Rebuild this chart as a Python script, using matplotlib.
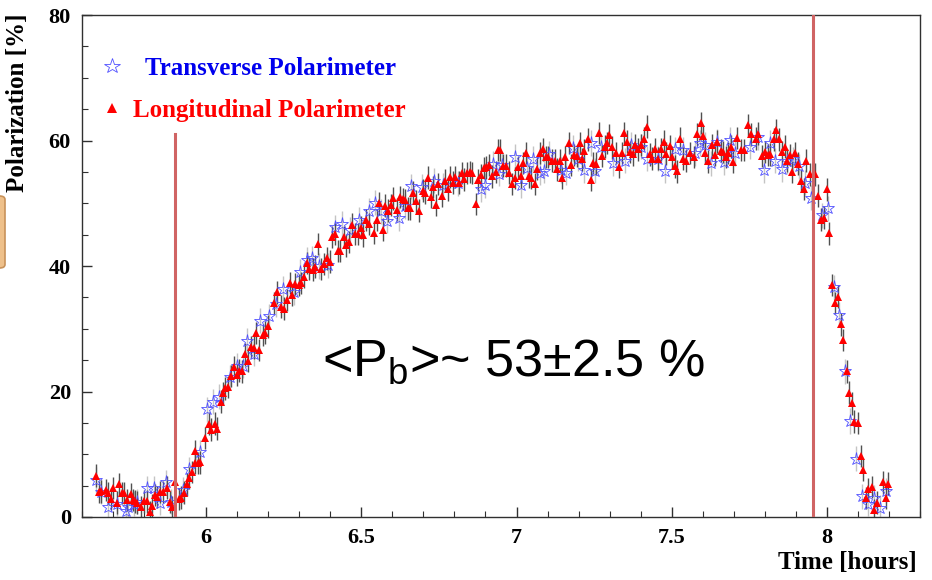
import matplotlib
matplotlib.use("Agg")
import matplotlib.pyplot as plt
from matplotlib.patches import FancyBboxPatch
from matplotlib.ticker import MultipleLocator

# Longitudinal polarimeter (red triangles): time [h], polarization [%]
tri_t = [5.646, 5.655, 5.662, 5.676, 5.684, 5.693, 5.701, 5.712, 5.720, 5.728,
         5.735, 5.744, 5.757, 5.764, 5.771, 5.778, 5.789, 5.800, 5.811, 5.819,
         5.827, 5.835, 5.843, 5.852, 5.862, 5.874, 5.884, 5.891, 5.899, 5.914,
         5.920, 5.928, 5.938, 5.946, 5.953, 5.964, 5.965, 5.973, 5.981, 5.996,
         6.010, 6.017, 6.027, 6.036, 6.047, 6.053, 6.061, 6.070, 6.080, 6.090,
         6.099, 6.106, 6.115, 6.126, 6.135, 6.144, 6.155, 6.160, 6.171, 6.182,
         6.189, 6.198, 6.219, 6.227, 6.241, 6.252, 6.259, 6.271, 6.278, 6.287,
         6.298, 6.306, 6.316, 6.324, 6.332, 6.345, 6.352, 6.360, 6.369, 6.381,
         6.389, 6.399, 6.405, 6.416, 6.424, 6.432, 6.443, 6.451, 6.461, 6.470,
         6.481, 6.488, 6.499, 6.506, 6.515, 6.524, 6.542, 6.551, 6.558, 6.569,
         6.577, 6.585, 6.594, 6.603, 6.615, 6.625, 6.633, 6.640, 6.649, 6.657,
         6.668, 6.676, 6.685, 6.698, 6.706, 6.714, 6.723, 6.732, 6.741, 6.746,
         6.760, 6.768, 6.778, 6.786, 6.795, 6.803, 6.814, 6.823, 6.832, 6.840,
         6.851, 6.857, 6.868, 6.877, 6.886, 6.895, 6.902, 6.911, 6.922, 6.935,
         6.940, 6.948, 6.956, 6.967, 6.975, 6.985, 6.994, 7.004, 7.013, 7.022,
         7.029, 7.039, 7.047, 7.058, 7.067, 7.075, 7.086, 7.096, 7.103, 7.114,
         7.123, 7.131, 7.139, 7.148, 7.155, 7.168, 7.176, 7.185, 7.195, 7.203,
         7.212, 7.219, 7.230, 7.241, 7.247, 7.256, 7.265, 7.274, 7.284, 7.293,
         7.299, 7.307, 7.322, 7.330, 7.339, 7.346, 7.356, 7.365, 7.374, 7.382,
         7.391, 7.400, 7.410, 7.422, 7.429, 7.438, 7.447, 7.456, 7.465, 7.475,
         7.483, 7.494, 7.501, 7.510, 7.518, 7.528, 7.538, 7.546, 7.558, 7.571,
         7.581, 7.593, 7.601, 7.606, 7.617, 7.630, 7.639, 7.646, 7.658, 7.665,
         7.674, 7.682, 7.690, 7.699, 7.710, 7.723, 7.732, 7.746, 7.755, 7.771,
         7.778, 7.791, 7.800, 7.809, 7.817, 7.828, 7.835, 7.845, 7.854, 7.864,
         7.873, 7.881, 7.888, 7.897, 7.907, 7.918, 7.926, 7.934, 7.945, 7.961,
         7.972, 7.981, 7.990, 7.999, 8.006, 8.015, 8.026, 8.035, 8.044, 8.053,
         8.064, 8.072, 8.080, 8.088, 8.099, 8.109, 8.117, 8.126, 8.133, 8.144,
         8.152, 8.160, 8.181, 8.189, 8.198]
tri_p = [6.6, 4.0, 4.1, 4.3, 3.8, 2.9, 4.6, 2.3, 5.2, 3.8,
         3.8, 2.7, 3.6, 2.7, 2.5, 2.3, 1.6, 2.5, 2.5, 0.8,
         1.8, 3.5, 3.2, 4.0, 4.0, 4.7, 2.4, 1.6, 5.5, 2.9,
         3.1, 3.9, 5.2, 6.2, 7.2, 8.6, 10.5, 8.6, 8.7, 12.6,
         14.9, 13.9, 14.9, 14.1, 18.4, 19.7, 20.5, 20.7, 22.5, 23.9,
         22.6, 23.3, 23.2, 25.9, 24.9, 27.1, 27.0, 29.3, 26.6, 29.0,
         29.4, 30.4, 34.1, 35.8, 33.5, 33.2, 34.6, 37.3, 35.4, 37.1,
         37.0, 37.3, 38.3, 40.5, 39.6, 39.4, 39.9, 43.5, 39.5, 40.3,
         41.2, 40.7, 44.6, 45.1, 42.4, 42.4, 44.6, 43.3, 43.8, 46.6,
         45.1, 45.1, 46.1, 44.9, 47.3, 46.7, 45.3, 47.3, 50.0, 45.8,
         49.6, 48.8, 49.7, 50.8, 49.0, 51.0, 50.7, 50.5, 49.2, 49.2,
         51.7, 50.3, 48.8, 52.0, 51.7, 54.1, 51.0, 52.6, 49.7, 53.1,
         51.2, 53.6, 52.2, 54.2, 53.3, 54.2, 53.3, 54.8, 53.8, 54.8,
         55.0, 54.8, 49.9, 53.7, 54.5, 55.6, 55.7, 56.1, 54.3, 55.0,
         58.5, 58.5, 56.0, 56.0, 54.9, 53.1, 54.0, 55.8, 54.3, 56.4,
         58.0, 54.3, 54.0, 53.1, 55.5, 58.0, 58.6, 57.4, 57.4, 56.8,
         56.8, 55.4, 56.8, 54.0, 57.3, 59.6, 56.1, 57.7, 57.5, 59.6,
         57.0, 58.4, 60.2, 53.7, 56.4, 56.3, 61.2, 57.5, 59.0, 59.6,
         60.9, 58.9, 58.0, 55.8, 58.0, 61.2, 59.8, 58.2, 57.8, 59.3,
         58.6, 59.3, 60.3, 62.2, 57.8, 57.1, 58.6, 57.1, 58.6, 59.8,
         57.9, 59.1, 57.3, 55.9, 55.1, 60.3, 57.1, 56.8, 58.0, 57.4,
         61.0, 62.8, 60.7, 58.0, 56.7, 59.3, 57.7, 59.8, 58.4, 58.2,
         57.4, 58.0, 59.0, 56.6, 60.4, 58.5, 58.5, 62.5, 61.0, 60.3,
         61.1, 57.5, 58.2, 57.7, 57.8, 60.2, 61.6, 60.2, 58.2, 59.0,
         56.8, 57.7, 55.0, 58.0, 56.3, 53.6, 52.3, 56.8, 54.6, 54.6,
         51.2, 47.4, 47.7, 52.2, 45.2, 37.0, 34.1, 35.1, 30.7, 28.2,
         23.2, 19.8, 18.1, 15.2, 15.0, 9.7, 7.5, 3.0, 4.4, 4.8,
         1.1, 2.3, 5.5, 3.0, 5.3]

# Transverse polarimeter (blue open stars)
star_t = [5.646, 5.660, 5.684, 5.712, 5.741, 5.749, 5.768, 5.778, 5.811, 5.832,
          5.852, 5.870, 5.888, 5.927, 5.945, 5.981, 6.003, 6.023, 6.040, 6.077,
          6.101, 6.119, 6.133, 6.153, 6.174, 6.203, 6.226, 6.248, 6.284, 6.303,
          6.326, 6.341, 6.362, 6.392, 6.416, 6.438, 6.464, 6.491, 6.526, 6.544,
          6.564, 6.582, 6.620, 6.642, 6.660, 6.696, 6.735, 6.762, 6.811, 6.884,
          6.900, 6.924, 6.942, 6.953, 6.994, 7.015, 7.035, 7.053, 7.077, 7.090,
          7.106, 7.144, 7.160, 7.182, 7.198, 7.217, 7.241, 7.254, 7.273, 7.311,
          7.348, 7.368, 7.402, 7.422, 7.456, 7.477, 7.510, 7.536, 7.574, 7.592,
          7.606, 7.628, 7.647, 7.669, 7.687, 7.705, 7.752, 7.778, 7.798, 7.816,
          7.834, 7.856, 7.873, 7.890, 7.911, 7.929, 7.948, 7.983, 8.003, 8.023,
          8.039, 8.058, 8.074, 8.093, 8.112, 8.131, 8.153, 8.171, 8.189]
star_p = [5.9, 4.0, 1.6, 2.1, 1.0, 1.6, 2.1, 2.4, 4.6, 4.6,
          2.3, 5.5, 2.4, 4.3, 7.6, 10.3, 17.2, 18.4, 19.2, 22.3,
          24.1, 24.1, 28.1, 26.0, 31.3, 32.0, 33.9, 36.4, 35.8, 39.1,
          41.0, 41.2, 40.0, 40.1, 46.2, 46.7, 45.8, 47.4, 48.8, 50.1,
          48.7, 47.2, 47.6, 49.5, 52.7, 52.6, 53.6, 52.9, 53.2, 52.2,
          52.9, 56.3, 54.7, 56.1, 57.4, 52.9, 55.6, 57.1, 54.9, 55.2,
          57.9, 55.3, 54.9, 58.8, 57.1, 55.3, 59.6, 55.2, 59.0, 56.4,
          56.8, 59.3, 59.0, 57.1, 57.1, 55.2, 58.6, 58.5, 58.0, 59.6,
          59.3, 56.4, 59.8, 56.5, 60.1, 58.0, 59.0, 60.5, 55.3, 59.6,
          56.8, 55.4, 56.7, 57.0, 55.9, 53.3, 50.9, 48.1, 49.2, 36.6,
          32.2, 23.2, 15.3, 9.3, 3.3, 2.1, 3.1, 1.5, 4.2]

tri_err = 1.8
star_err = 2.0

# beam-on window markers
cut_start, cut_start_top = 5.9, 61
cut_end = 7.955

serif = ['Liberation Serif', 'DejaVu Serif']
red_line = '#d06464'

fig = plt.figure(figsize=(9.32, 5.8), dpi=100)
ax = fig.add_axes([82 / 932, 63 / 580, 838 / 932, 502 / 580])

ax.errorbar(star_t, star_p, yerr=star_err, fmt='none', ecolor='#c4c4c4', elinewidth=1.0, zorder=1)
ax.errorbar(tri_t, tri_p, yerr=tri_err, fmt='none', ecolor='#505050', elinewidth=1.0, zorder=2)
ax.plot(star_t, star_p, ls='none', marker='*', ms=9.5, mfc='none', mec='#5050ff', mew=0.6,
        zorder=3, label='  Transverse Polarimeter')
ax.plot(tri_t, tri_p, ls='none', marker='^', ms=5.5, mfc='red', mec='red', mew=0,
        zorder=4, label='Longitudinal Polarimeter')

ax.plot([cut_start, cut_start], [0, cut_start_top], color=red_line, lw=2.2, zorder=5)
ax.axvline(cut_end, color=red_line, lw=2.2, zorder=5)

ax.set_xlim(5.6, 8.3)
ax.set_ylim(0, 80)
ax.xaxis.set_major_locator(MultipleLocator(0.5))
ax.xaxis.set_minor_locator(MultipleLocator(0.1))
ax.yaxis.set_major_locator(MultipleLocator(20))
ax.yaxis.set_minor_locator(MultipleLocator(5))
ax.set_xticks([6, 6.5, 7, 7.5, 8])
ax.set_xticklabels(['6', '6.5', '7', '7.5', '8'])
ax.tick_params(which='both', direction='in', top=False, right=False, colors='#303030')
ax.tick_params(which='major', length=7, width=1, pad=8)
ax.tick_params(which='minor', length=4, width=0.8)
for lab in ax.get_xticklabels() + ax.get_yticklabels():
    lab.set_fontfamily(serif)
    lab.set_fontweight('bold')
    lab.set_fontsize(16)
    lab.set_color('black')
for s in ax.spines.values():
    s.set_color('#303030')
    s.set_linewidth(1.0)

fig.text(18 / 932, 1 - 14 / 580, 'Polarization [%]', rotation=90, ha='center', va='top',
         fontfamily=serif, fontweight='bold', fontsize=18)
fig.text(917 / 932, 1 - 563 / 580, 'Time [hours]', ha='right', va='center',
         fontfamily=serif, fontweight='bold', fontsize=18)

leg = ax.legend(loc='upper left', bbox_to_anchor=(99 / 932, 1 - 57 / 580), bbox_transform=fig.transFigure,
                frameon=False, numpoints=1, handlelength=1.0, handletextpad=0.35, labelspacing=0.75,
                borderpad=0, borderaxespad=0, prop={'family': serif, 'weight': 'bold', 'size': 18})
leg.get_texts()[0].set_color('#0000ee')
leg.get_texts()[1].set_color('red')
for h in leg.legend_handles:
    h.set_markersize(h.get_markersize() * 1.2)

plt.rcParams['mathtext.fontset'] = 'custom'
plt.rcParams['mathtext.rm'] = 'Liberation Sans'
fig.text(322 / 932, 1 - 376 / 580, r'<P$_\mathrm{b}$>~ 53±2.5 %', ha='left', va='baseline',
         fontfamily='Liberation Sans', fontsize=37.5, color='black')

# slide remnant at the left edge
fig.patches.append(FancyBboxPatch((-8 / 932, 1 - 268 / 580), 13 / 932, 72 / 580,
                                  boxstyle='round,pad=0,rounding_size=0.006', transform=fig.transFigure,
                                  facecolor='#eec08a', edgecolor='#c8925a', lw=1.2))

fig.savefig('out.png', dpi=100)
